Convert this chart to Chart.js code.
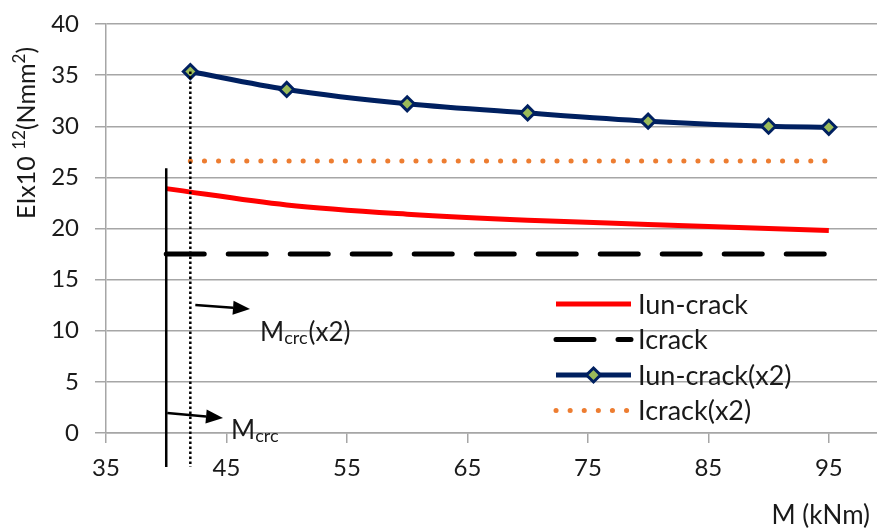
<!DOCTYPE html>
<html>
<head>
<meta charset="utf-8">
<script src="https://cdn.jsdelivr.net/npm/chart.js@4/dist/chart.umd.min.js"></script>
<style>
  html, body { margin: 0; padding: 0; background: #fff; }
  #wrap { width: 877px; height: 531px; position: relative; }
</style>
</head>
<body>
<div id="wrap"><canvas id="ei_chart"></canvas></div>
<script>
// data
var m_uncrack = [40, 50, 60, 70, 80, 90, 95];
var ei_uncrack = [23.9, 22.3, 21.4, 20.8, 20.4, 20.0, 19.8];

var m_crack = [40, 95];
var ei_crack = [17.5, 17.5];

var m_uncrack_x2 = [42, 50, 60, 70, 80, 90, 95];
var ei_uncrack_x2 = [35.35, 33.6, 32.2, 31.3, 30.5, 30.0, 29.9];

var m_crack_x2 = [42, 95];
var ei_crack_x2 = [26.6, 26.6];

var x_ticks = [35, 45, 55, 65, 75, 85, 95];
var y_ticks = [0, 5, 10, 15, 20, 25, 30, 35, 40];

var m_crc = 40;
var m_crc_x2 = 42;

var FONT = "Lato, 'Open Sans', sans-serif";
var TXT = "#1a1a1a";

function to_points(xs, ys) {
  var out = [];
  for (var i = 0; i < xs.length; i++) {
    out.push({ x: xs[i], y: ys[i] });
  }
  return out;
}

// titles, marker lines, arrows, legend
var extras = {
  id: "extras",
  afterDraw: function (chart) {
    var ctx = chart.ctx;
    var xs = chart.scales.x;
    var ys = chart.scales.y;
    var base = ys.getPixelForValue(0);

    ctx.save();

    // vertical Mcrc line (solid)
    var x1 = xs.getPixelForValue(m_crc);
    ctx.strokeStyle = "#000";
    ctx.lineWidth = 2.5;
    ctx.beginPath();
    ctx.moveTo(x1, ys.getPixelForValue(25.9));
    ctx.lineTo(x1, base + 34);
    ctx.stroke();

    // vertical Mcrc(x2) line (dotted)
    var x2 = xs.getPixelForValue(m_crc_x2);
    ctx.setLineDash([2.5, 2.5]);
    ctx.lineWidth = 2.5;
    ctx.beginPath();
    ctx.moveTo(x2, ys.getPixelForValue(ei_uncrack_x2[0]));
    ctx.lineTo(x2, base + 34);
    ctx.stroke();
    ctx.setLineDash([]);

    // arrows
    function arrow(ax, ay, bx, by) {
      var ang = Math.atan2(by - ay, bx - ax);
      var hl = 17, hw = 7;
      ctx.lineWidth = 2.5;
      ctx.beginPath();
      ctx.moveTo(ax, ay);
      ctx.lineTo(bx - hl * Math.cos(ang), by - hl * Math.sin(ang));
      ctx.stroke();
      ctx.beginPath();
      ctx.moveTo(bx, by);
      ctx.lineTo(bx - hl * Math.cos(ang) + hw * Math.sin(ang), by - hl * Math.sin(ang) - hw * Math.cos(ang));
      ctx.lineTo(bx - hl * Math.cos(ang) - hw * Math.sin(ang), by - hl * Math.sin(ang) + hw * Math.cos(ang));
      ctx.closePath();
      ctx.fill();
    }
    ctx.fillStyle = "#000";
    arrow(x2 + 5, 305, 250, 309);
    arrow(x1 + 1, 413, 223, 418);

    // Mcrc labels
    function mlabel(x, y, tail) {
      ctx.textBaseline = "alphabetic";
      ctx.textAlign = "left";
      ctx.fillStyle = TXT;
      ctx.font = "26px " + FONT;
      ctx.fillText("M", x, y);
      var w = ctx.measureText("M").width;
      ctx.font = "18px " + FONT;
      ctx.fillText("crc", x + w, y + 3);
      var w2 = ctx.measureText("crc").width;
      if (tail) {
        ctx.font = "26px " + FONT;
        ctx.fillText(tail, x + w + w2 + 1, y);
      }
    }
    mlabel(260, 341, "(x2)");
    mlabel(231, 439, "");

    // y title, rotated
    ctx.translate(35, 219);
    ctx.rotate(-Math.PI / 2);
    ctx.textAlign = "left";
    ctx.textBaseline = "alphabetic";
    ctx.fillStyle = TXT;
    var parts = [
      ["EIx10 ", 25, 0],
      ["12", 17, -10],
      ["(Nmm", 25, 0],
      ["2", 17, -10],
      [")", 25, 0]
    ];
    var px = 0;
    for (var i = 0; i < parts.length; i++) {
      ctx.font = parts[i][1] + "px " + FONT;
      ctx.fillText(parts[i][0], px, parts[i][2]);
      px += ctx.measureText(parts[i][0]).width;
    }
    ctx.setTransform(1, 0, 0, 1, 0, 0);

    // x title
    ctx.font = "26px " + FONT;
    ctx.textAlign = "right";
    ctx.textBaseline = "middle";
    ctx.fillText("M (kNm)", 870, 516);

    // legend
    var lx0 = 556, lx1 = 631, ly = 304, step = 35.5;
    chart.data.datasets.forEach(function (ds, k) {
      var y = ly + k * step;
      ctx.strokeStyle = ds.borderColor;
      ctx.lineWidth = ds.borderWidth;
      ctx.lineCap = ds.borderCapStyle || "butt";
      ctx.setLineDash(ds.borderDash || []);
      ctx.beginPath();
      ctx.moveTo(lx0, y);
      ctx.lineTo(lx1, y);
      ctx.stroke();
      ctx.setLineDash([]);
      ctx.lineCap = "butt";
      if (ds.pointRadius > 0) {
        var cx = (lx0 + lx1) / 2, r = ds.pointRadius;
        ctx.beginPath();
        ctx.moveTo(cx, y - r);
        ctx.lineTo(cx + r, y);
        ctx.lineTo(cx, y + r);
        ctx.lineTo(cx - r, y);
        ctx.closePath();
        ctx.fillStyle = ds.pointBackgroundColor;
        ctx.fill();
        ctx.lineWidth = ds.pointBorderWidth;
        ctx.strokeStyle = ds.pointBorderColor;
        ctx.stroke();
      }
      ctx.fillStyle = TXT;
      ctx.font = "27px " + FONT;
      ctx.textAlign = "left";
      ctx.textBaseline = "middle";
      ctx.fillText(ds.label, 638, y + 1);
    });

    ctx.restore();
  }
};

var ctx = document.getElementById("ei_chart").getContext("2d");

var chart = new Chart(ctx, {
  type: "line",
  data: {
    datasets: [{
      label: "Iun-crack",
      data: to_points(m_uncrack, ei_uncrack),
      borderColor: "#FF0000",
      borderWidth: 5,
      pointRadius: 0,
      cubicInterpolationMode: "monotone",
      borderCapStyle: "butt"
    }, {
      label: "Icrack",
      data: to_points(m_crack, ei_crack),
      borderColor: "#000000",
      borderWidth: 5,
      borderDash: [38, 24],
      borderCapStyle: "round",
      pointRadius: 0
    }, {
      label: "Iun-crack(x2)",
      data: to_points(m_uncrack_x2, ei_uncrack_x2),
      borderColor: "#002060",
      borderWidth: 5,
      cubicInterpolationMode: "monotone",
      pointStyle: "rectRot",
      pointRadius: 7,
      pointHoverRadius: 7,
      pointBackgroundColor: "#9BBB59",
      pointBorderColor: "#002060",
      pointBorderWidth: 3
    }, {
      label: "Icrack(x2)",
      data: to_points(m_crack_x2, ei_crack_x2),
      borderColor: "#ED7D31",
      borderWidth: 5,
      borderDash: [0.1, 14],
      borderCapStyle: "round",
      pointRadius: 0
    }]
  },
  options: {
    responsive: true,
    maintainAspectRatio: false,
    animation: false,
    layout: {
      autoPadding: false,
      padding: { top: 24, right: 0, left: 0, bottom: 0 }
    },
    scales: {
      x: {
        type: "linear",
        min: 35,
        max: 99,
        afterBuildTicks: function (s) {
          s.ticks = x_ticks.map(function (v) { return { value: v }; });
        },
        afterFit: function (s) {
          s.height = 98;
          s.paddingLeft = 0;
          s.paddingRight = 0;
        },
        grid: {
          drawOnChartArea: false,
          drawTicks: true,
          tickLength: 10,
          color: "#A6A6A6",
          lineWidth: 1.5
        },
        border: { color: "#A6A6A6", width: 1.5 },
        ticks: {
          autoSkip: false,
          maxRotation: 0,
          padding: 11,
          color: TXT,
          font: { family: FONT, size: 24 }
        }
      },
      y: {
        min: 0,
        max: 40,
        afterBuildTicks: function (s) {
          s.ticks = y_ticks.map(function (v) { return { value: v }; });
        },
        afterFit: function (s) {
          s.width = 106;
          s.paddingTop = 0;
          s.paddingBottom = 0;
        },
        grid: {
          color: "#A6A6A6",
          lineWidth: 1.5,
          tickLength: 11
        },
        border: { color: "#A6A6A6", width: 1.5 },
        ticks: {
          padding: 16,
          color: TXT,
          font: { family: FONT, size: 24 }
        }
      }
    },
    plugins: {
      legend: { display: false },
      tooltip: { enabled: false }
    }
  },
  plugins: [extras]
});
</script>
</body>
</html>
